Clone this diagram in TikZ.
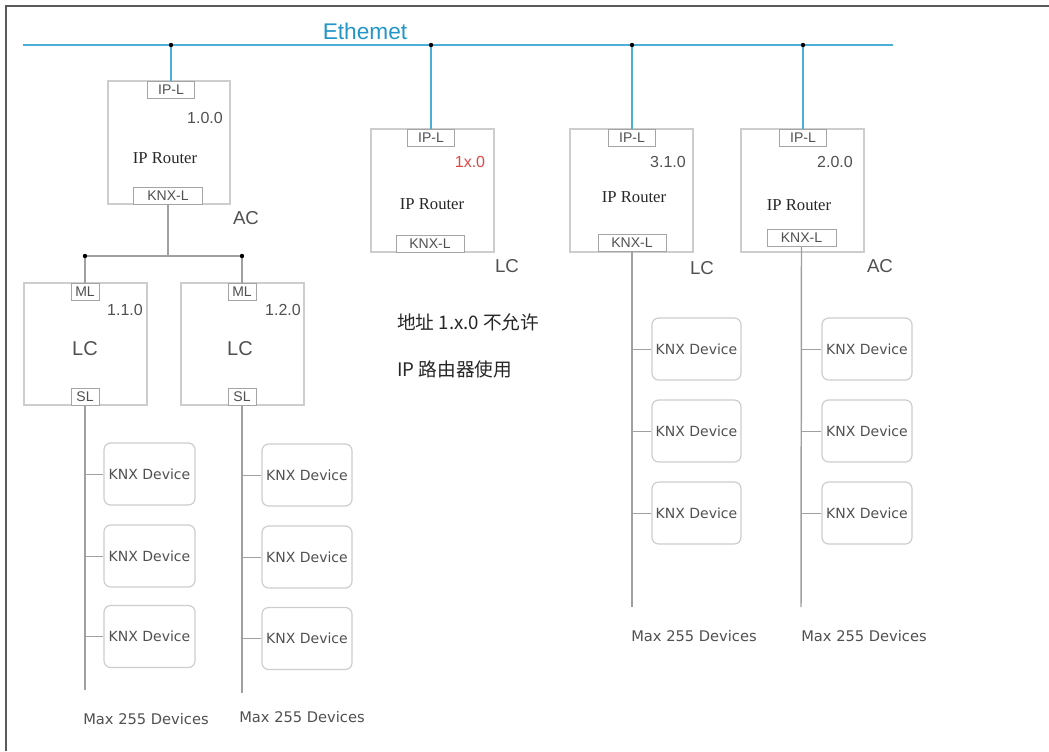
\documentclass[tikz,border=0pt]{standalone}
\usepackage{fontspec}
\newfontfamily\arialf{Liberation Sans}
\newfontfamily\serif{Liberation Serif}
\newfontfamily\dejav{DejaVu Sans}
\newfontfamily\cjk{Noto Sans CJK SC}
\definecolor{boxgray}{RGB}{205,205,205}
\definecolor{tabgray}{RGB}{165,165,165}
\definecolor{linegray}{RGB}{160,160,160}
\definecolor{txtgray}{RGB}{80,80,80}
\definecolor{ethblue}{RGB}{75,175,215}
\definecolor{ethtext}{RGB}{35,150,200}
\definecolor{addrred}{RGB}{225,70,70}
\definecolor{framegray}{RGB}{90,90,90}
\tikzset{
  box/.style={draw=boxgray, line width=0.9pt, minimum width=122*0.75pt, minimum height=123*0.75pt, inner sep=0pt},
  tab/.style={draw=tabgray, line width=0.75pt, fill=white, minimum height=17*0.75pt, inner sep=0pt, text=txtgray, font=\arialf\fontsize{10.5}{12}\selectfont},
  dev/.style={draw=boxgray, line width=0.9pt, rounded corners=5pt, minimum width=90*0.75pt, minimum height=62*0.75pt, inner sep=0pt, text=txtgray, font=\dejav\fontsize{10.5}{12}\selectfont},
  addr/.style={text=txtgray, inner sep=0pt, font=\arialf\fontsize{12}{14}\selectfont},
  router/.style={text=black!85, inner sep=0pt, font=\serif\fontsize{12.5}{14}\selectfont},
  kind/.style={text=txtgray, inner sep=0pt, font=\arialf\fontsize{14}{16}\selectfont},
  maxl/.style={text=txtgray, inner sep=0pt, font=\dejav\fontsize{11}{13}\selectfont},
  cn/.style={text=black!85, inner sep=0pt, anchor=west, font=\cjk\fontsize{14}{16}\selectfont},
  eth/.style={draw=ethblue, line width=1.6pt},
  wire/.style={draw=linegray, line width=1.1pt},
  stub/.style={draw=linegray, line width=0.7pt},
  dot/.style={fill=black, radius=2.2*0.75pt}
}
\begin{document}
\begin{tikzpicture}[x=0.75pt, y=-0.75pt]
\useasboundingbox (0,0) rectangle (1049,751);
% frame
\coordinate (fTL) at (6,6);
\coordinate (fTR) at (1049,6);
\coordinate (fBL) at (6,751);
\draw[framegray, line width=1.5pt] (fBL) -- (fTL) -- (fTR);

% Ethernet
\coordinate (ethL) at (23,45);
\coordinate (ethR) at (893,45);
\draw[eth] (ethL) -- (ethR);
\node[text=ethtext, inner sep=0pt, font=\arialf\fontsize{17}{19}\selectfont] (ethlbl) at (365,31) {Ethemet};
\coordinate (e1) at (171,45);
\coordinate (e2) at (431,45);
\coordinate (e3) at (632,45);
\coordinate (e4) at (803,45);

% Router 1
\node[box] (r1) at (169,142.5) {};
\node[tab, minimum width=47*0.75pt] (r1ip) at (171,89.5) {IP-L};
\node[tab, minimum width=69*0.75pt] (r1knx) at (168,195.5) {KNX-L};
\node[addr] (r1a) at (205,118) {1.0.0};
\node[router] (r1n) at (165,158) {IP Router};
\node[kind] (r1k) at (246,218) {AC};

% backbone to line couplers
\coordinate (bL) at (85,256);
\coordinate (bR) at (242,256);
\draw[wire] (r1knx.south) -- (r1knx.south |- bL);
\draw[wire] (bL) -- (bR);

% Line coupler 1
\node[box, minimum width=123*0.75pt, minimum height=122*0.75pt] (lc1) at (85.5,344) {};
\node[tab, minimum width=28*0.75pt] (lc1ml) at (85,291.5) {ML};
\node[tab, minimum width=28*0.75pt] (lc1sl) at (85,396.5) {SL};
\node[addr] (lc1a) at (125,310) {1.1.0};
\node[text=txtgray, inner sep=0pt, font=\arialf\fontsize{15}{17}\selectfont] (lc1n) at (85,349) {LC};
\draw[wire] (bL) -- (lc1ml.north);

% Line coupler 2
\node[box, minimum width=123*0.75pt, minimum height=122*0.75pt] (lc2) at (242.5,344) {};
\node[tab, minimum width=28*0.75pt] (lc2ml) at (242,291.5) {ML};
\node[tab, minimum width=28*0.75pt] (lc2sl) at (242,396.5) {SL};
\node[addr] (lc2a) at (283,310) {1.2.0};
\node[text=txtgray, inner sep=0pt, font=\arialf\fontsize{15}{17}\selectfont] (lc2n) at (240,349) {LC};
\draw[wire] (bR) -- (lc2ml.north);

\fill[dot] (bL) circle;
\fill[dot] (bR) circle;

% line 1.1 devices
\coordinate (l1end) at (85,690);
\draw[wire] (lc1sl.south) -- (l1end);
\node[dev, minimum width=91*0.75pt] (d11) at (149.5,474) {KNX Device};
\node[dev, minimum width=91*0.75pt] (d12) at (149.5,556) {KNX Device};
\node[dev, minimum width=91*0.75pt] (d13) at (149.5,636.5) {KNX Device};
\foreach \d in {d11,d12,d13} \draw[stub] (\d.west) -- (\d.west -| l1end);
\node[maxl] (m1) at (146,719) {Max 255 Devices};

% line 1.2 devices
\coordinate (l2end) at (242,693);
\draw[wire] (lc2sl.south) -- (l2end);
\node[dev] (d21) at (307,475) {KNX Device};
\node[dev] (d22) at (307,557) {KNX Device};
\node[dev] (d23) at (307,638.5) {KNX Device};
\foreach \d in {d21,d22,d23} \draw[stub] (\d.west) -- (\d.west -| l2end);
\node[maxl] (m2) at (302,717) {Max 255 Devices};

% Router 2 (1x.0)
\node[box, minimum width=123*0.75pt] (r2) at (432.5,190.5) {};
\node[tab, minimum width=47*0.75pt] (r2ip) at (431,137.5) {IP-L};
\node[tab, minimum width=68*0.75pt] (r2knx) at (430,243.5) {KNX-L};
\node[addr, text=addrred] (r2a) at (470,162) {1x.0};
\node[router] (r2n) at (432,204) {IP Router};
\node[kind] (r2k) at (507,266) {LC};

% Router 3 (3.1.0)
\node[box, minimum width=123*0.75pt] (r3) at (631.5,190.5) {};
\node[tab, minimum width=47*0.75pt] (r3ip) at (632,137.5) {IP-L};
\node[tab, minimum width=68*0.75pt] (r3knx) at (632,243) {KNX-L};
\node[addr] (r3a) at (668,162) {3.1.0};
\node[router] (r3n) at (634,197) {IP Router};
\node[kind] (r3k) at (702,268) {LC};
\coordinate (l3end) at (632,607);
\draw[wire] (r3knx.south) -- (l3end);
\node[dev, minimum width=89*0.75pt] (d31) at (696.5,349) {KNX Device};
\node[dev, minimum width=89*0.75pt] (d32) at (696.5,431) {KNX Device};
\node[dev, minimum width=89*0.75pt] (d33) at (696.5,513) {KNX Device};
\foreach \d in {d31,d32,d33} \draw[stub] (\d.west) -- (\d.west -| l3end);
\node[maxl] (m3) at (694,636) {Max 255 Devices};

% Router 4 (2.0.0)
\node[box, minimum width=123*0.75pt] (r4) at (802.5,190.5) {};
\node[tab, minimum width=47*0.75pt] (r4ip) at (803,137.5) {IP-L};
\node[tab, minimum width=69*0.75pt] (r4knx) at (801.5,237.5) {KNX-L};
\node[addr] (r4a) at (835,162) {2.0.0};
\node[router] (r4n) at (799,205) {IP Router};
\node[kind] (r4k) at (880,266) {AC};
\coordinate (l4end) at (801,607);
\draw[wire] (r4knx.south) -- (l4end);
\node[dev] (d41) at (867,349) {KNX Device};
\node[dev] (d42) at (867,431) {KNX Device};
\node[dev] (d43) at (867,513) {KNX Device};
\foreach \d in {d41,d42,d43} \draw[stub] (\d.west) -- (\d.west -| l4end);
\node[maxl] (m4) at (864,636) {Max 255 Devices};

% Ethernet drops
\draw[eth] (e1) -- (r1ip.north);
\draw[eth] (e2) -- (r2ip.north);
\draw[eth] (e3) -- (r3ip.north);
\draw[eth] (e4) -- (r4ip.north);
\foreach \e in {e1,e2,e3,e4} \fill[dot] (\e) circle;

% note
\node[cn] (note1) at (397,322) {地址 1.x.0 不允许};
\node[cn] (note2) at (397,369) {IP 路由器使用};
\end{tikzpicture}
\end{document}
